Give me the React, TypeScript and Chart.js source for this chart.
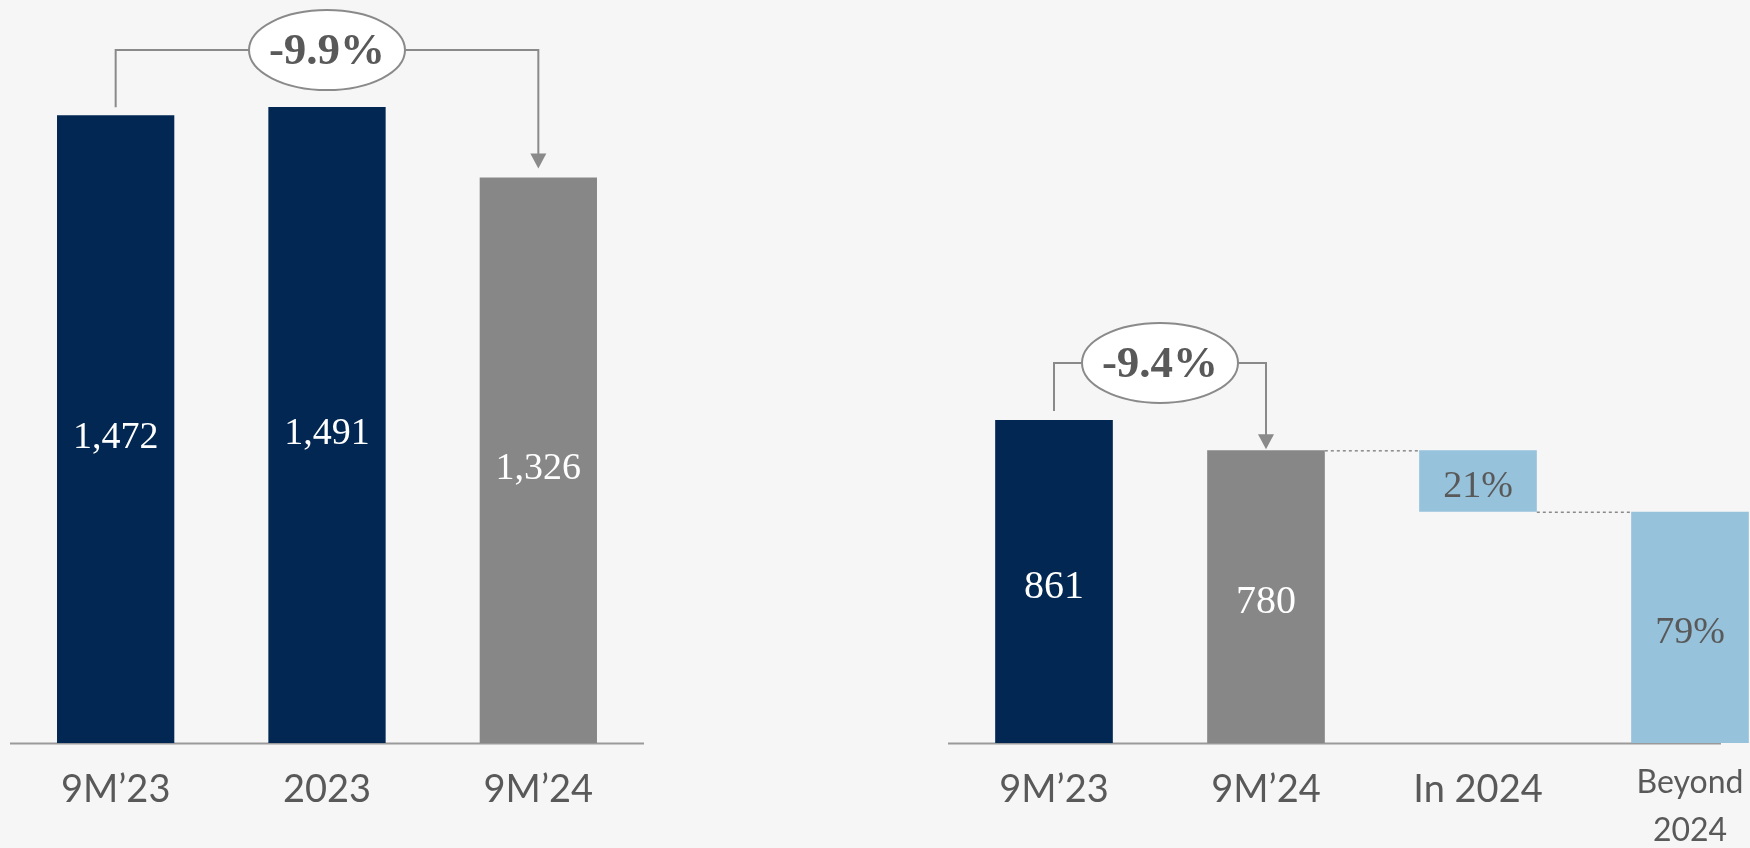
import React, { useEffect, useRef } from "react";
import { Chart, registerables } from "chart.js";

Chart.register(...registerables);

const BG = "#f6f6f6";
const NAVY = "#012752";
const GREY = "#878787";
const LIGHT_BLUE = "#96c2dc";
const TEXT_GREY = "#595959";
const LINE_GREY = "#8a8a8a";
const AXIS_GREY = "#9a9a9a";

// ---- Left chart data ----
const leftCategories: (string | string[])[] = ["9M’23", "2023", "9M’24"];
const leftValues = [1472, 1491, 1326];
const leftColors = [NAVY, NAVY, GREY];
const leftLabelColors = ["#ffffff", "#ffffff", "#ffffff"];
const leftChange = "-9.9%";
const leftYMax = 1742;

// ---- Right chart data ----
const rightCategories: (string | string[])[] = ["9M’23", "9M’24", "In 2024", ["Beyond", "2024"]];
const rightTotals = [861, 780];
const rightSplitPct = [21, 79];
const rightColors = [NAVY, GREY, LIGHT_BLUE, LIGHT_BLUE];
const rightLabelColors = ["#ffffff", "#ffffff", TEXT_GREY, TEXT_GREY];
const rightChange = "-9.4%";
const rightYMax = 1980;

const splitValue = rightTotals[1] * (1 - rightSplitPct[0] / 100);
const rightData: [number, number][] = [
  [0, rightTotals[0]],
  [0, rightTotals[1]],
  [splitValue, rightTotals[1]],
  [0, splitValue],
];
const rightLabels = [
  String(rightTotals[0]),
  String(rightTotals[1]),
  rightSplitPct[0] + "%",
  rightSplitPct[1] + "%",
];
const leftLabels = leftValues.map((v) => v.toLocaleString("en-US"));

type OverlayCfg = {
  labels: string[];
  labelColors: string[];
  labelFont: (i: number) => string;
  labelOffset: number;
  from: number;
  to: number;
  change: string;
  startGap: number;
  arrowGap: number;
  connectors: boolean;
  axisEndFrac: number | null;
};

function makeOverlay(cfg: OverlayCfg) {
  return {
    id: "overlay",
    beforeDatasetsDraw(chart: any) {
      const ctx = chart.ctx;
      const area = chart.chartArea;
      const xs = chart.scales.x;
      let end = area.right;
      if (cfg.axisEndFrac !== null) {
        const step = xs.getPixelForValue(1) - xs.getPixelForValue(0);
        end = xs.getPixelForValue(xs.ticks.length - 1) + cfg.axisEndFrac * step;
      }
      ctx.save();
      ctx.strokeStyle = AXIS_GREY;
      ctx.lineWidth = 2;
      ctx.beginPath();
      ctx.moveTo(area.left, area.bottom + 0.5);
      ctx.lineTo(end, area.bottom + 0.5);
      ctx.stroke();
      ctx.restore();
    },
    afterDatasetsDraw(chart: any) {
      const ctx = chart.ctx;
      const els = chart.getDatasetMeta(0).data as any[];
      const tops = els.map((e) => Math.min(e.y, e.base));
      const bottoms = els.map((e) => Math.max(e.y, e.base));
      ctx.save();
      ctx.textAlign = "center";
      ctx.textBaseline = "middle";
      // value labels
      els.forEach((el, i) => {
        ctx.font = cfg.labelFont(i);
        ctx.fillStyle = cfg.labelColors[i];
        ctx.fillText(cfg.labels[i], el.x, (tops[i] + bottoms[i]) / 2 + cfg.labelOffset);
      });
      // waterfall connectors
      if (cfg.connectors) {
        ctx.strokeStyle = LINE_GREY;
        ctx.lineWidth = 1.5;
        ctx.setLineDash([3, 3]);
        for (let i = 1; i < els.length - 1; i++) {
          const a = els[i];
          const b = els[i + 1];
          const y = i === 1 ? tops[i] : bottoms[i];
          ctx.beginPath();
          ctx.moveTo(a.x + a.width / 2, y + 0.5);
          ctx.lineTo(b.x - b.width / 2, y + 0.5);
          ctx.stroke();
        }
        ctx.setLineDash([]);
      }
      // change bracket
      const a = els[cfg.from];
      const b = els[cfg.to];
      let minTop = Infinity;
      for (let i = cfg.from; i <= cfg.to; i++) minTop = Math.min(minTop, tops[i]);
      const cy = minTop - 57;
      const cx = (a.x + b.x) / 2;
      const rx = 78;
      const ry = 40;
      const tipY = tops[cfg.to] - cfg.arrowGap;
      ctx.strokeStyle = LINE_GREY;
      ctx.lineWidth = 2;
      ctx.beginPath();
      ctx.moveTo(a.x, tops[cfg.from] - cfg.startGap);
      ctx.lineTo(a.x, cy);
      ctx.lineTo(b.x, cy);
      ctx.lineTo(b.x, tipY - 14);
      ctx.stroke();
      ctx.fillStyle = LINE_GREY;
      ctx.beginPath();
      ctx.moveTo(b.x - 8, tipY - 15);
      ctx.lineTo(b.x + 8, tipY - 15);
      ctx.lineTo(b.x, tipY);
      ctx.closePath();
      ctx.fill();
      ctx.beginPath();
      ctx.ellipse(cx, cy, rx, ry, 0, 0, Math.PI * 2);
      ctx.fillStyle = "#ffffff";
      ctx.fill();
      ctx.stroke();
      ctx.font = "bold 45px 'Liberation Serif', 'DejaVu Serif', serif";
      ctx.fillStyle = TEXT_GREY;
      ctx.fillText(cfg.change, cx, cy + 2);
      ctx.restore();
    },
  };
}

function makeConfig(
  categories: (string | string[])[],
  data: any[],
  colors: string[],
  yMax: number,
  padLeft: number,
  padRight: number,
  smallTickIndex: number,
  overlay: any
): any {
  return {
    type: "bar",
    data: {
      labels: categories,
      datasets: [
        {
          data,
          backgroundColor: colors,
          borderWidth: 0,
          barPercentage: 1,
          categoryPercentage: 0.555,
        },
      ],
    },
    options: {
      responsive: false,
      animation: false,
      devicePixelRatio: 1,
      layout: { padding: { left: padLeft, right: padRight, top: 0, bottom: 0 } },
      plugins: { legend: { display: false }, tooltip: { enabled: false } },
      scales: {
        x: {
          grid: { display: false, drawTicks: false },
          border: { display: false },
          ticks: {
            autoSkip: false,
            maxRotation: 0,
            padding: 16,
            color: TEXT_GREY,
            font: (c: any) =>
              c.index === smallTickIndex
                ? { family: "Lato", size: 32, lineHeight: "48px" }
                : { family: "Lato", size: 38, lineHeight: "62px" },
          },
          afterFit: (scale: any) => {
            scale.height = 105;
          },
        },
        y: { display: false, min: 0, max: yMax },
      },
    },
    plugins: [overlay],
  };
}

function BarCanvas(props: { config: () => any; left: number; width: number }) {
  const ref = useRef<HTMLCanvasElement | null>(null);
  useEffect(() => {
    if (!ref.current) return;
    const chart = new Chart(ref.current, props.config());
    return () => chart.destroy();
  }, []);
  return (
    <canvas
      ref={ref}
      width={props.width}
      height={848}
      style={{ position: "absolute", left: props.left, top: 0, width: props.width, height: 848 }}
    />
  );
}

export default function App() {
  const leftOverlay = makeOverlay({
    labels: leftLabels,
    labelColors: leftLabelColors,
    labelFont: () => "38px 'Liberation Serif', 'DejaVu Serif', serif",
    labelOffset: 9,
    from: 0,
    to: 2,
    change: leftChange,
    startGap: 8,
    arrowGap: 9,
    connectors: false,
    axisEndFrac: null,
  });
  const rightOverlay = makeOverlay({
    labels: rightLabels,
    labelColors: rightLabelColors,
    labelFont: (i) =>
      i < 2
        ? "40px 'Liberation Serif', 'DejaVu Serif', serif"
        : "38px 'Liberation Serif', 'DejaVu Serif', serif",
    labelOffset: 6,
    from: 0,
    to: 1,
    change: rightChange,
    startGap: 9,
    arrowGap: 1,
    connectors: true,
    axisEndFrac: 0.146,
  });
  return (
    <div
      style={{
        position: "fixed",
        left: 0,
        top: 0,
        width: 1750,
        height: 848,
        overflow: "hidden",
        background: BG,
      }}
    >
      <BarCanvas
        left={0}
        width={660}
        config={() => makeConfig(leftCategories, leftValues, leftColors, leftYMax, 10, 16, -1, leftOverlay)}
      />
      <BarCanvas
        left={938}
        width={868}
        config={() => makeConfig(rightCategories, rightData, rightColors, rightYMax, 10, 10, 3, rightOverlay)}
      />
    </div>
  );
}
